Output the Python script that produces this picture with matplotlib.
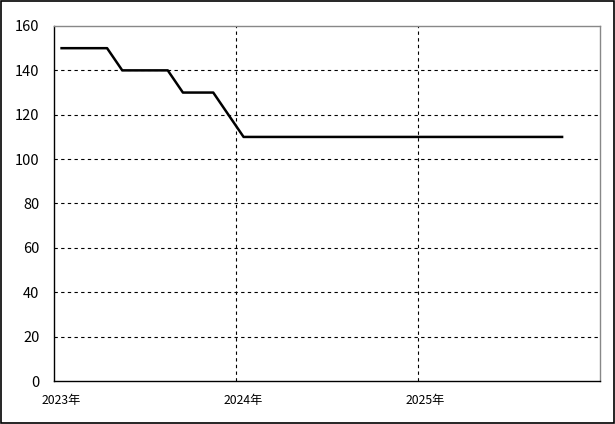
import matplotlib
matplotlib.use("Agg")
import matplotlib.pyplot as plt
from matplotlib.patches import Rectangle

plt.rcParams['font.family'] = ['Noto Sans CJK JP', 'DejaVu Sans']

# Données : valeurs mensuelles de janv. 2023 à oct. 2025
valeurs = [150, 150, 150, 150,
           140, 140, 140, 140,
           130, 130, 130,
           120,
           110, 110, 110, 110, 110, 110, 110, 110, 110, 110, 110, 110,
           110, 110, 110, 110, 110, 110, 110, 110, 110, 110]
nb_mois = 36
etiquettes_x = ['2023年', '2024年', '2025年']
positions_etiquettes = [0, 12, 24]
ticks_y = [0, 20, 40, 60, 80, 100, 120, 140, 160]

fig = plt.figure(figsize=(6.15, 4.24), dpi=100)
fig.patches.append(Rectangle((0.0015, 0.002), 0.997, 0.996, transform=fig.transFigure,
                             fill=False, edgecolor='black', linewidth=1.2))

ax = fig.add_axes([0.0878, 0.1014, 0.8878, 0.8373])
ax.plot(range(len(valeurs)), valeurs, color='black', linewidth=1.8, zorder=3)

ax.set_xlim(-0.5, nb_mois - 0.5)
ax.set_ylim(0, 160)

ax.set_yticks(ticks_y)
ax.set_yticklabels([str(v) for v in ticks_y], fontsize=10.5)
ax.set_xticks(positions_etiquettes)
ax.set_xticklabels(etiquettes_x, fontsize=8.8)
ax.tick_params(axis='y', length=0, pad=10.5)
ax.tick_params(axis='x', length=0, pad=9)

# Quadrillage
for v in ticks_y[1:-1]:
    ax.axhline(v, color='black', linestyle=(0, (3, 3)), linewidth=0.8, zorder=1)
for b in [11.5, 23.5]:
    ax.axvline(b, color='black', linestyle=(0, (3, 3)), linewidth=0.8, zorder=1)

ax.spines['left'].set_color('black')
ax.spines['bottom'].set_color('black')
ax.spines['top'].set_color('#888888')
ax.spines['right'].set_color('#888888')
for s in ax.spines.values():
    s.set_linewidth(1.0)

fig.savefig('out.png', dpi=100)
